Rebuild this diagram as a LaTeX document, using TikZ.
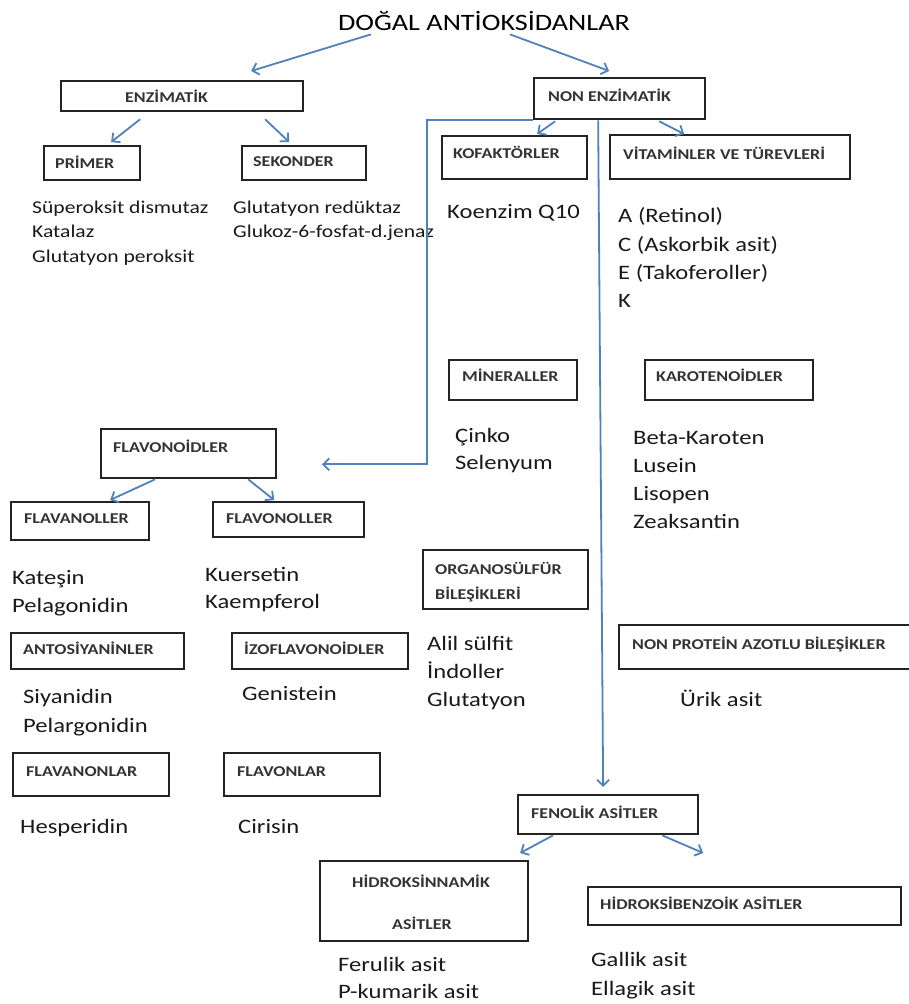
\documentclass[tikz,border=0pt]{standalone}
\usepackage{fontspec}
\setmainfont{Carlito}[FakeStretch=1.2]
\usetikzlibrary{arrows.meta}
\definecolor{lineblue}{RGB}{79,129,189}
\definecolor{boxline}{RGB}{35,35,35}
\newcommand\mybox[5]{\node[box,anchor=north west,minimum width={(#4-#2)*1pt},minimum height={(#5-#3)*1pt}] (#1) at (#2,#3) {};}
\begin{document}
\begin{tikzpicture}[x=1pt,y=-1pt,
  box/.style={draw=boxline, line width=2.3pt, inner sep=0pt},
  lbl/.style={anchor=base west, inner sep=0pt, font=\fontsize{15}{18}\selectfont\bfseries, text=black!80},
  item/.style={anchor=base west, inner sep=0pt, font=\fontsize{20.5}{24}\selectfont, text=black!90},
  small/.style={anchor=base west, inner sep=0pt, font=\fontsize{18}{22}\selectfont, text=black!90},
  arr/.style={draw=lineblue, line width=1.8pt, -{Straight Barb[length=6pt,width=12pt]}},
]
\useasboundingbox (0,0) rectangle (909,1004);

% title
\node[anchor=base, inner sep=0pt, font=\fontsize{23.5}{28}\selectfont] (title) at (484,30) {DOĞAL ANTİOKSİDANLAR};

% boxes
\mybox{enz}{60}{80}{302}{110}
\mybox{nonenz}{533}{77}{704}{118}
\mybox{prim}{43}{145}{139}{179}
\mybox{sek}{241}{145}{365}{179}
\mybox{kof}{441}{135}{586}{178}
\mybox{vit}{609}{134}{849}{178}
\mybox{min}{448}{359}{576}{399}
\mybox{kar}{644}{359}{812}{399}
\mybox{flv}{100}{428}{275}{477}
\mybox{flvnol}{10}{501}{148}{539}
\mybox{flvonol}{212}{501}{363}{536}
\mybox{ant}{10}{632}{183}{668}
\mybox{izo}{231}{632}{407}{668}
\mybox{flvnon}{12}{752}{168}{795}
\mybox{flvon}{223}{752}{379}{795}
\mybox{org}{422}{549}{587}{608}
\mybox{npa}{618}{624}{915}{668}
\mybox{fen}{517}{794}{697}{833}
\mybox{hsin}{319}{860}{527}{940}
\mybox{hben}{587}{886}{900}{924}

% box labels
\node[lbl] (tenz) at (125,102) {ENZİMATİK};
\node[lbl] (tnonenz) at (548,101) {NON ENZİMATİK};
\node[lbl] (tprim) at (55,168) {PRİMER};
\node[lbl] (tsek) at (253,166) {SEKONDER};
\node[lbl] (tkof) at (453,158) {KOFAKTÖRLER};
\node[lbl] (tvit) at (623,159) {VİTAMİNLER VE TÜREVLERİ};
\node[lbl] (tmin) at (462,381) {MİNERALLER};
\node[lbl] (tkar) at (656,381) {KAROTENOİDLER};
\node[lbl] (tflv) at (113,452) {FLAVONOİDLER};
\node[lbl] (tflvnol) at (24,523) {FLAVANOLLER};
\node[lbl] (tflvonol) at (226,523) {FLAVONOLLER};
\node[lbl] (tant) at (23,654) {ANTOSİYANİNLER};
\node[lbl] (tizo) at (244,654) {İZOFLAVONOİDLER};
\node[lbl] (tflvnon) at (26,776) {FLAVANONLAR};
\node[lbl] (tflvon) at (237,776) {FLAVONLAR};
\node[lbl] (torg1) at (435,574) {ORGANOSÜLFÜR};
\node[lbl] (torg2) at (435,599) {BİLEŞİKLERİ};
\node[lbl] (tnpa) at (632,649) {NON PROTEİN AZOTLU BİLEŞİKLER};
\node[lbl] (tfen) at (531,818) {FENOLİK ASİTLER};
\node[lbl] (thsin1) at (352,887) {HİDROKSİNNAMİK};
\node[lbl] (thsin2) at (392,929) {ASİTLER};
\node[lbl] (thben) at (600,909) {HİDROKSİBENZOİK ASİTLER};

% lists
\node[small] (s1) at (32,213) {Süperoksit dismutaz};
\node[small] (s2) at (32,237) {Katalaz};
\node[small] (s3) at (32,262) {Glutatyon peroksit};
\node[small] (k1) at (233,213) {Glutatyon redüktaz};
\node[small] (k2) at (233,237) {Glukoz-6-fosfat-d.jenaz};
\node[item] (q10) at (447,218) {Koenzim Q10};
\node[item] (va) at (618,222) {A (Retinol)};
\node[item] (vc) at (618,251) {C (Askorbik asit)};
\node[item] (ve) at (618,279) {E (Takoferoller)};
\node[item] (vk) at (618,307) {K};
\node[item] (m1) at (455,442) {Çinko};
\node[item] (m2) at (455,469) {Selenyum};
\node[item] (c1) at (633,444) {Beta-Karoten};
\node[item] (c2) at (633,472) {Lusein};
\node[item] (c3) at (633,500) {Lisopen};
\node[item] (c4) at (633,528) {Zeaksantin};
\node[item] (f1) at (12,584) {Kateşin};
\node[item] (f2) at (12,612) {Pelagonidin};
\node[item] (f3) at (205,581) {Kuersetin};
\node[item] (f4) at (205,608) {Kaempferol};
\node[item] (a1) at (23,703) {Siyanidin};
\node[item] (a2) at (23,732) {Pelargonidin};
\node[item] (i1) at (242,700) {Genistein};
\node[item] (h1) at (20,833) {Hesperidin};
\node[item] (h2) at (238,833) {Cirisin};
\node[item] (o1) at (427,650) {Alil sülfit};
\node[item] (o2) at (427,678) {İndoller};
\node[item] (o3) at (427,706) {Glutatyon};
\node[item] (u1) at (680,706) {Ürik asit};
\node[item] (p1) at (338,971) {Ferulik asit};
\node[item] (p2) at (338,998) {P-kumarik asit};
\node[item] (g1) at (591,966) {Gallik asit};
\node[item] (g2) at (591,995) {Ellagik asit};

% connectors
\draw[arr] ([shift={(-113,4)}]title.south) -- ([shift={(69,-9)}]enz.north);
\draw[arr] ([shift={(26,4)}]title.south) -- ([shift={(-10.5,-6)}]nonenz.north);
\draw[arr] ([shift={(-42,7)}]enz.south) -- ([shift={(19,-3)}]prim.north);
\draw[arr] ([shift={(83,7)}]enz.south) -- ([shift={(-15,-3)}]sek.north);
\draw[arr] ([shift={(-64.5,1)}]nonenz.south) -- ([shift={(22.5,-1)}]kof.north);
\draw[arr] ([shift={(39.5,1)}]nonenz.south) -- ([shift={(-46,0)}]vit.north);
\draw[arr] (nonenz.south west) -- ++(-106,0) -- ++(0,344) -- ++(-105,0);
\draw[arr] ([xshift=-21.5pt]nonenz.south) -- ([shift={(-5,-7)}]fen.north);
\draw[arr] ([shift={(-33.5,0)}]flv.south) -- ([shift={(30,-1)}]flvnol.north);
\draw[arr] ([shift={(59.5,0)}]flv.south) -- ([shift={(-14.5,-1)}]flvonol.north);
\draw[arr] ([shift={(-55,0)}]fen.south) -- ([shift={(96,-7)}]hsin.north);
\draw[arr] ([shift={(54,0)}]fen.south) -- ([shift={(-41.5,-33)}]hben.north);
\end{tikzpicture}
\end{document}
